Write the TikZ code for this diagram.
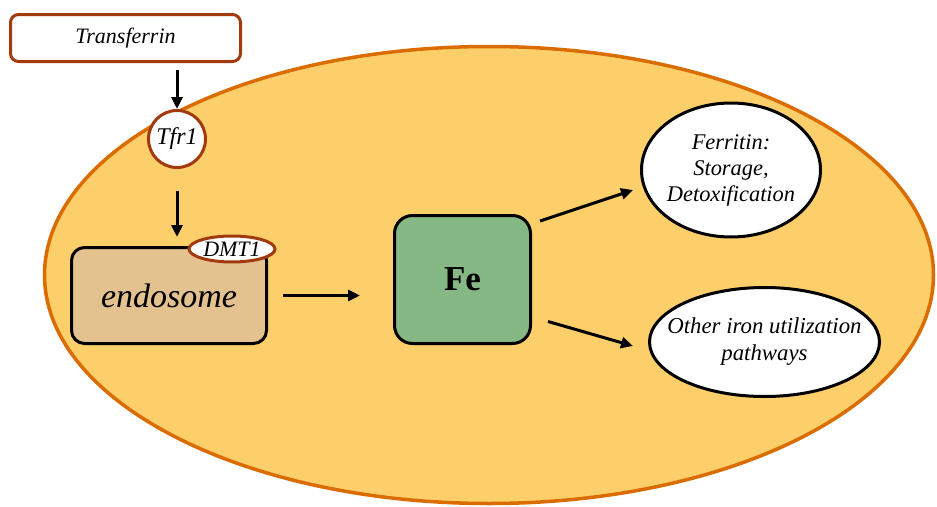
\documentclass[tikz,border=0pt]{standalone}
\usepackage{fontspec}
\setmainfont{Liberation Serif}
\usetikzlibrary{shapes.geometric,arrows.meta,calc}
\definecolor{cellfill}{HTML}{FDCF6A}
\definecolor{celledge}{HTML}{DB6C00}
\definecolor{brownedge}{HTML}{A33A0E}
\definecolor{endofill}{HTML}{E4C28F}
\definecolor{fefill}{HTML}{86B886}
\tikzset{
  arr/.style={line width=3pt,-{Triangle[length=12pt,width=11pt]}},
  brownbox/.style={draw=brownedge,line width=3pt,fill=white},
  blackbox/.style={draw=black,line width=3pt},
  itxt/.style={font=\fontsize{22}{26}\selectfont\itshape},
}
\begin{document}
\begin{tikzpicture}[x=1pt,y=-1pt]
\useasboundingbox (0,0) rectangle (937,506);
% cell
\node[ellipse,draw=celledge,line width=3.5pt,fill=cellfill,minimum width=889pt,minimum height=457pt,inner sep=0pt] (cell) at (489,275) {};
% transferrin
\node[brownbox,rectangle,rounded corners=8pt,minimum width=230pt,minimum height=47pt,inner sep=0pt,itxt] (transferrin) at (125.5,38) {Transferrin};
% Tfr1
\node[brownbox,circle,minimum size=57pt,inner sep=0pt,font=\fontsize{24}{27}\selectfont\itshape] (tfr1) at (177,139) {Tfr1};
% endosome
\node[blackbox,rectangle,fill=endofill,rounded corners=13pt,minimum width=195pt,minimum height=96pt,inner sep=0pt,font=\fontsize{34}{38}\selectfont\itshape] (endosome) at (169,295.5) {endosome};
% DMT1
\node[brownbox,ellipse,minimum width=86pt,minimum height=26pt,inner sep=0pt,label={[itxt,inner sep=0pt]center:DMT1}] (dmt1) at (232,249) {};
% Fe
\node[blackbox,rectangle,fill=fefill,rounded corners=18pt,minimum width=136pt,minimum height=128pt,inner sep=0pt,font=\fontsize{35}{38}\selectfont\bfseries] (fe) at (462.5,279.5) {Fe};
% Ferritin
\node[blackbox,ellipse,fill=white,minimum width=179pt,minimum height=134pt,inner sep=0pt,
  label={[font=\fontsize{22.4}{26}\selectfont\itshape,align=center,inner sep=0pt]center:Ferritin:\\Storage,\\Detoxification}] (ferritin) at (731,170) {};
% Other
\node[blackbox,ellipse,fill=white,minimum width=230pt,minimum height=109pt,inner sep=0pt,
  label={[font=\fontsize{22.8}{27}\selectfont\itshape,align=center,inner sep=0pt]center:Other iron utilization\\pathways}] (other) at (764.5,342) {};
% arrows
\draw[arr,shorten <=7pt] (tfr1.north |- transferrin.south) -- (tfr1.north);
\draw[arr,shorten <=22pt,shorten >=9pt] (tfr1.south) -- (tfr1.south |- endosome.north);
\draw[arr,shorten <=15pt,shorten >=33pt] (endosome.east) -- (endosome.east -| fe.west);
\draw[arr] ($(fe.north east)+(8,7)$) -- ($(ferritin.west)+(-7,20)$);
\draw[arr] ($(fe.east)+(16,42)$) -- ($(other.west)+(-15,4)$);
\end{tikzpicture}
\end{document}
